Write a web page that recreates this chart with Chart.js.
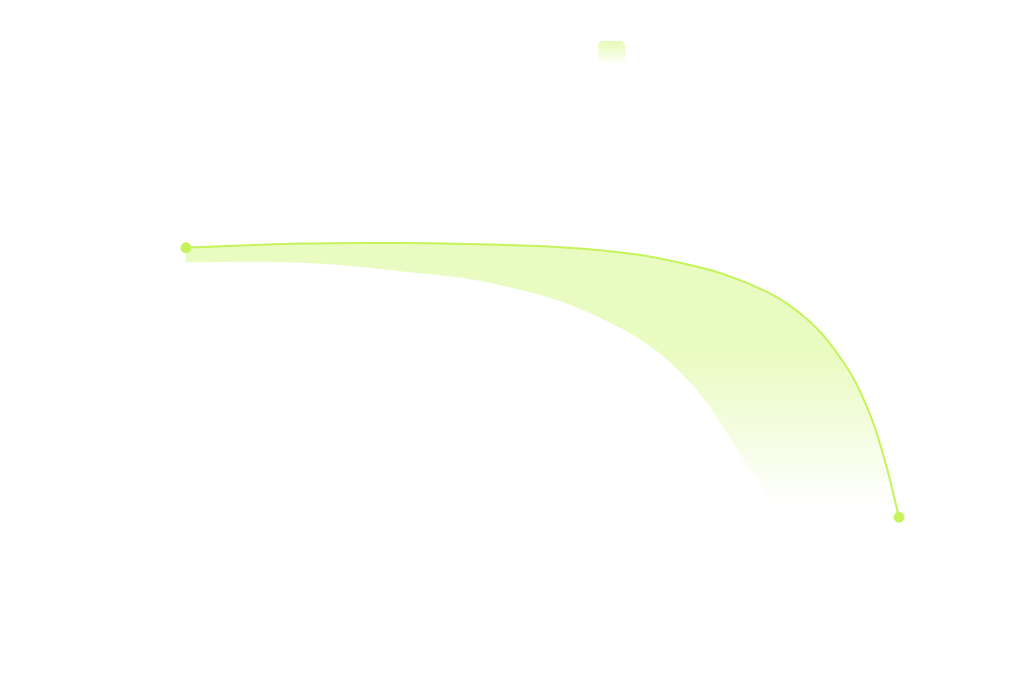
<!DOCTYPE html>
<html>
<head>
<meta charset="utf-8">
<title>Curve</title>
<script src="https://cdn.jsdelivr.net/npm/chart.js@4.4.1/dist/chart.umd.min.js"></script>
<style>
  html, body { margin: 0; padding: 0; background: #fff; }
  #wrap { width: 1024px; height: 686px; }
</style>
</head>
<body>
<div id="wrap"><canvas id="curveChart"></canvas></div>
<script>
// x positions shared by both curves
const xValues = [0, 16.0, 30.0, 44.0, 58.1, 69.3, 78.7, 86.1, 91.7, 95.5, 98.0, 100];
// visible line (upper edge of the band)
const upperValues = [70.2, 70.9, 71.0, 70.7, 69.8, 67.7, 64.3, 59.3, 52.0, 43.7, 34.8, 25.3];
// lower edge of the band
const lowerValues = [67.8, 67.7, 66.3, 64.0, 58.5, 49.5, 34.0, 19.5, 9.8, 4.8, 2.8, 1.5];

const LINE = '#c4f35a';
const FILL = 'rgba(196, 245, 90, 0.38)';
const FILL_CLEAR = 'rgba(196, 245, 90, 0)';

function toPoints(ys) {
    return xValues.map((x, i) => ({ x: x, y: ys[i] }));
}

// gradient fill: solid down to the middle, fading out toward the bottom point
function bandFill(context) {
    const chart = context.chart;
    const yScale = chart.scales.y;
    if (!chart.chartArea || !yScale) return FILL;
    const top = yScale.getPixelForValue(53);
    const bottom = yScale.getPixelForValue(27);
    const g = chart.ctx.createLinearGradient(0, top, 0, bottom);
    g.addColorStop(0, FILL);
    g.addColorStop(1, FILL_CLEAR);
    return g;
}

// small rounded swatch for the legend
function makeSwatch() {
    const c = document.createElement('canvas');
    c.width = 27;
    c.height = 24;
    const ctx = c.getContext('2d');
    const g = ctx.createLinearGradient(0, 0, 0, c.height);
    g.addColorStop(0, 'rgba(196, 245, 90, 0.45)');
    g.addColorStop(1, 'rgba(196, 245, 90, 0)');
    ctx.fillStyle = g;
    ctx.beginPath();
    ctx.roundRect(0, 0, c.width, c.height, 5);
    ctx.fill();
    return c;
}
const swatch = makeSwatch();

const lastIndex = xValues.length - 1;

new Chart(document.getElementById('curveChart'), {
    type: 'line',
    data: {
        datasets: [
            {
                label: '',
                data: toPoints(upperValues),
                borderColor: LINE,
                borderWidth: 2,
                backgroundColor: bandFill,
                fill: '+1',
                tension: 0.4,
                pointRadius: xValues.map((_, i) => (i === 0 || i === lastIndex) ? 5 : 0),
                pointHoverRadius: 6,
                pointBackgroundColor: LINE,
                pointBorderColor: LINE,
                pointBorderWidth: 1,
                clip: false
            },
            {
                label: '',
                data: toPoints(lowerValues),
                borderColor: '#ffffff',
                borderWidth: 1.5,
                fill: false,
                tension: 0.4,
                pointRadius: 0,
                pointHoverRadius: 0
            }
        ]
    },
    options: {
        responsive: true,
        maintainAspectRatio: false,
        animation: false,
        layout: { padding: { left: 186, right: -19, top: 0, bottom: 17 } },
        scales: {
            x: { type: 'linear', display: false, min: 0, max: 116.55 },
            y: { display: false, min: 0, max: 100 }
        },
        plugins: {
            legend: {
                display: true,
                position: 'top',
                labels: {
                    usePointStyle: true,
                    padding: 47,
                    generateLabels: () => [{
                        text: '',
                        pointStyle: swatch,
                        fillStyle: FILL,
                        strokeStyle: 'transparent',
                        lineWidth: 0,
                        hidden: false,
                        datasetIndex: 0
                    }]
                }
            },
            tooltip: { enabled: true }
        }
    }
});
</script>
</body>
</html>
